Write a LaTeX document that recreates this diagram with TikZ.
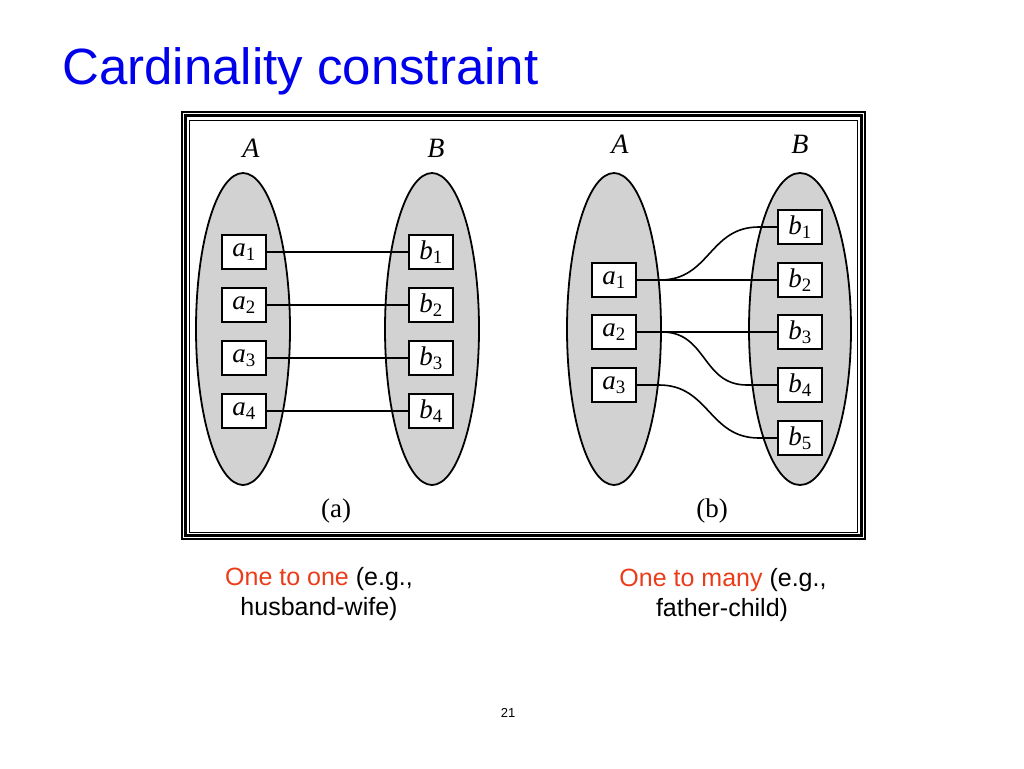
\documentclass[tikz,border=0pt]{standalone}
\usepackage{fontspec}
\setmainfont{Liberation Serif}
\newfontfamily\slidefont{Liberation Sans}
\usetikzlibrary{shapes.geometric}
\definecolor{titleblue}{RGB}{0,0,235}
\definecolor{capred}{RGB}{235,60,25}
\definecolor{setgray}{RGB}{210,210,210}

\begin{document}
\begin{tikzpicture}[x=1pt, y=-1pt,
  entset/.style={ellipse, draw, line width=1.8pt, fill=setgray, minimum width=94pt, minimum height=312pt, inner sep=0pt},
  elem/.style={rectangle, draw, line width=2.2pt, fill=white, minimum width=44pt, minimum height=34pt, inner sep=0pt, font=\fontsize{27}{30}\selectfont},
  setlbl/.style={anchor=base, font=\fontsize{28}{32}\selectfont},
  partlbl/.style={font=\fontsize{27}{30}\selectfont},
  cardcap/.style={anchor=base, font=\slidefont\fontsize{25}{30}\selectfont},
  conn/.style={line width=1.6pt}]
  \useasboundingbox (0,0) rectangle (1024,768);

  \node[anchor=base west, inner sep=0pt, text=titleblue, font=\slidefont\fontsize{51}{60}\selectfont] (title) at (62,84) {Cardinality constraint};

  % frame
  \draw[line width=1.2pt] (182,112) rectangle (865,539);
  \draw[line width=3pt] (185.5,115.5) rectangle (861.5,535.5);
  \draw[line width=1pt] (189.5,120) rectangle (857,532);

  % (a) one to one
  \node[setlbl] (labA1) at (251,157) {$\mathit{A}$};
  \node[setlbl] (labB1) at (436,157) {$\mathit{B}$};
  \node[entset] (setA1) at (243,329) {};
  \node[entset] (setB1) at (432,329) {};
  \foreach \i/\y in {1/252,2/305,3/358,4/411} {
    \node[elem] (a\i) at (244,\y) {$\mathit{a}_{\mathrm{\i}}$};
    \node[elem] (b\i) at (431,\y) {$\mathit{b}_{\mathrm{\i}}$};
    \draw[conn] (a\i) -- (b\i);
  }
  \node[partlbl] (parta) at (336,511) {(a)};

  % (b) one to many
  \node[setlbl] (labA2) at (620,153) {$\mathit{A}$};
  \node[setlbl] (labB2) at (800,153) {$\mathit{B}$};
  \node[entset] (setA2) at (614,329) {};
  \node[entset, minimum width=102pt] (setB2) at (800,329) {};
  \foreach \i/\y in {1/280,2/332,3/385}
    \node[elem] (p\i) at (614,\y) {$\mathit{a}_{\mathrm{\i}}$};
  \foreach \i/\y in {1/227,2/280,3/332,4/385,5/438}
    \node[elem] (q\i) at (800,\y) {$\mathit{b}_{\mathrm{\i}}$};
  \draw[conn] (p1) -- (q2);
  \draw[conn] (p2) -- (q3);
  \draw[conn] (p1.east) -- ++(23,0) .. controls +(50,0) and +(-50,0) .. ([xshift=-18pt]q1.west) -- (q1);
  \draw[conn] (p2.east) -- ++(25,0) .. controls +(45,0) and +(-45,0) .. ([xshift=-30pt]q4.west) -- (q4);
  \draw[conn] (p3.east) -- ++(22,0) .. controls +(50,0) and +(-50,0) .. ([xshift=-18pt]q5.west) -- (q5);
  \node[partlbl] (partb) at (712,511) {(b)};

  % captions
  \node[cardcap] (capa1) at (319,585) {\textcolor{capred}{One to one} (e.g.,};
  \node[cardcap] (capa2) at (319,615) {husband-wife)};
  \node[cardcap] (capb1) at (723,586) {\textcolor{capred}{One to many} (e.g.,};
  \node[cardcap] (capb2) at (722,616) {father-child)};

  \node[anchor=base, font=\slidefont\fontsize{13}{15}\selectfont] (pageno) at (508,717) {21};
\end{tikzpicture}
\end{document}
